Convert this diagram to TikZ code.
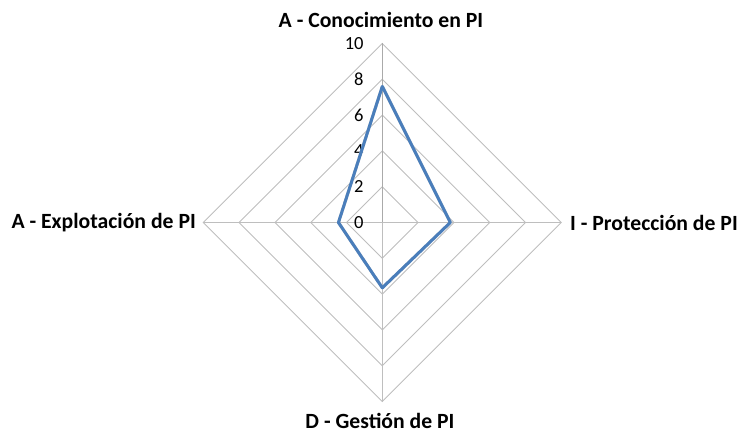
\documentclass[tikz,border=0pt]{standalone}
\usepackage{fontspec}
\setmainfont{Carlito}
\usetikzlibrary{calc}
\begin{document}
\begin{tikzpicture}[x=1pt,y=-1pt,
  gridline/.style={draw={rgb,255:red,190;green,190;blue,190},line width=0.9pt},
  axisline/.style={draw={rgb,255:red,170;green,170;blue,170},line width=1pt},
  series/.style={draw={rgb,255:red,74;green,126;blue,187},line width=3pt,line join=round},
  shadowline/.style={draw={rgb,255:red,200;green,200;blue,200},line width=3pt,line join=round},
  axlabel/.style={font=\fontsize{21.7}{25}\selectfont\bfseries,inner sep=0pt},
  ticklabel/.style={font=\fontsize{18.5}{21}\selectfont,inner sep=0pt,anchor=east}]
\useasboundingbox (0,0) rectangle (738,433);
\def\R{17.9}
\coordinate (O) at (382.3,222.5);
% grid diamonds
\foreach \k in {2,4,6,8,10}{
  \draw[gridline] ($(O)+(0,-\k*\R)$) -- ($(O)+(\k*\R,0)$) -- ($(O)+(0,\k*\R)$) -- ($(O)+(-\k*\R,0)$) -- cycle;
}
\coordinate (T) at ($(O)+(0,-10*\R)$);
\coordinate (Rt) at ($(O)+(10*\R,0)$);
\coordinate (B) at ($(O)+(0,10*\R)$);
\coordinate (L) at ($(O)+(-10*\R,0)$);
\draw[axisline] (O) -- (T);
\draw[gridline] (O) -- (Rt);
\draw[gridline] (O) -- (B);
\draw[gridline] (O) -- (L);
% ticks
\foreach \k in {0,2,4,6,8,10}{
  \node[ticklabel] (t\k) at ($(O)+(-18.5,-\k*\R)$) {\k};
}
% data
\coordinate (p1) at ($(O)+(0,-7.6*\R)$);
\coordinate (p2) at ($(O)+(3.8*\R,0)$);
\coordinate (p3) at ($(O)+(0,3.65*\R)$);
\coordinate (p4) at ($(O)+(-2.45*\R,0)$);
\draw[shadowline,shift={(1.5,1.5)}] (p1) -- (p2) -- (p3) -- (p4) -- cycle;
\draw[series] (p1) -- (p2) -- (p3) -- (p4) -- cycle;
% axis labels
\node[axlabel] (lt) at (381,20) {A - Conocimiento en PI};
\node[axlabel,anchor=west] (lr) at (570,222.5) {I - Protección de PI};
\node[axlabel] (lb) at (380,421) {D - Gestión de PI};
\node[axlabel,anchor=east] (ll) at (196,222.5) {A - Explotación de PI};
\end{tikzpicture}
\end{document}
